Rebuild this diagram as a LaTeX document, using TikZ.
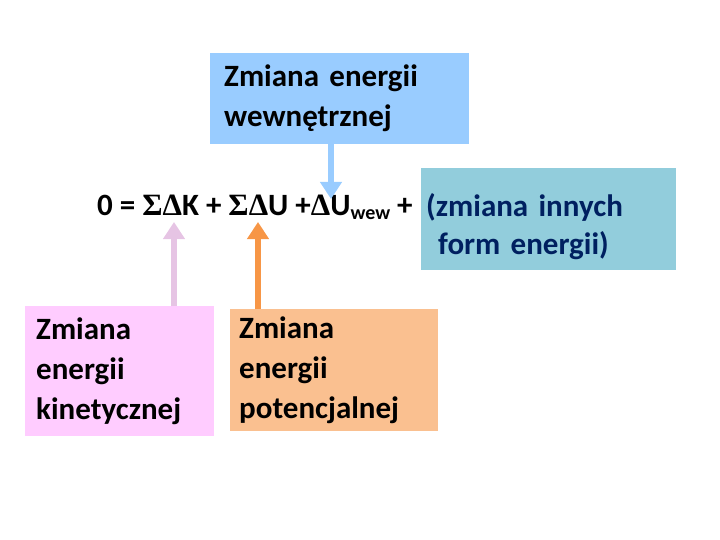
\documentclass[tikz,border=0pt]{standalone}
\usepackage{fontspec}
\setmainfont{Carlito}
\newfontfamily\symbfont{Liberation Serif}
\usetikzlibrary{arrows.meta}
\definecolor{boxblue}{RGB}{153,204,255}
\definecolor{boxteal}{RGB}{146,205,220}
\definecolor{boxpink}{RGB}{255,204,255}
\definecolor{boxorange}{RGB}{250,192,144}
\definecolor{arrpink}{RGB}{230,196,228}
\definecolor{arrorange}{RGB}{247,150,70}
\definecolor{textnavy}{RGB}{0,32,96}
\tikzset{
  box/.style={anchor=north west, align=left, inner sep=0pt, text width=#1,
    font=\bfseries\fontsize{31}{40}\selectfont},
  bigarrow/.style={line width=6pt, -{Triangle[width=21pt,length=17pt]}}
}
\newcommand{\sdelta}{{\symbfont\bfseries ΣΔ}}

\begin{document}
\begin{tikzpicture}[x=1pt,y=-1pt]
    \useasboundingbox (0,0) rectangle (720,540);
    % internal energy box
    \node[box=255pt, fill=boxblue, minimum width=259pt, minimum height=91pt] (wew) at (210,53)
      {\hspace*{12pt}Zmiana energii\\\hspace*{12pt}wewnętrznej};
    % other forms box
    \node[box=253pt, fill=boxteal, minimum width=255pt, minimum height=102pt, text=textnavy,
      font=\bfseries\fontsize{31}{38}\selectfont] (inne) at (421,168)
      {\rule{0pt}{37pt}\hspace*{4pt}(zmiana innych\\\hspace*{16pt}form energii)};
    % equation
    \node[anchor=base west, inner sep=0pt, font=\bfseries\fontsize{31}{40}\selectfont] (rown) at (97,215)
      {0 = \sdelta K + \sdelta U +{\symbfont\bfseries Δ}U\raisebox{-4pt}{\fontsize{20}{20}\selectfont wew} +};
    % kinetic and potential boxes
    \node[box=187pt, fill=boxpink, minimum width=189pt, minimum height=130pt] (kin) at (25,306)
      {\hspace*{10pt}Zmiana\\\hspace*{10pt}energii\\\hspace*{10pt}kinetycznej};
    \node[box=206pt, fill=boxorange, minimum width=208pt, minimum height=122pt] (pot) at (230,309)
      {\hspace*{8pt}Zmiana\\\hspace*{8pt}energii\\\hspace*{8pt}potencjalnej};
    % arrow ends
    \coordinate (tipU) at (331,199);
    \coordinate (tipK) at (174,222);
    \coordinate (tipP) at (258,222);
    \draw[bigarrow, boxblue] (wew.south -| tipU) -- (tipU);
    \draw[bigarrow, arrpink] (kin.north -| tipK) -- (tipK);
    \draw[bigarrow, arrorange] (pot.north -| tipP) -- (tipP);
\end{tikzpicture}
\end{document}
